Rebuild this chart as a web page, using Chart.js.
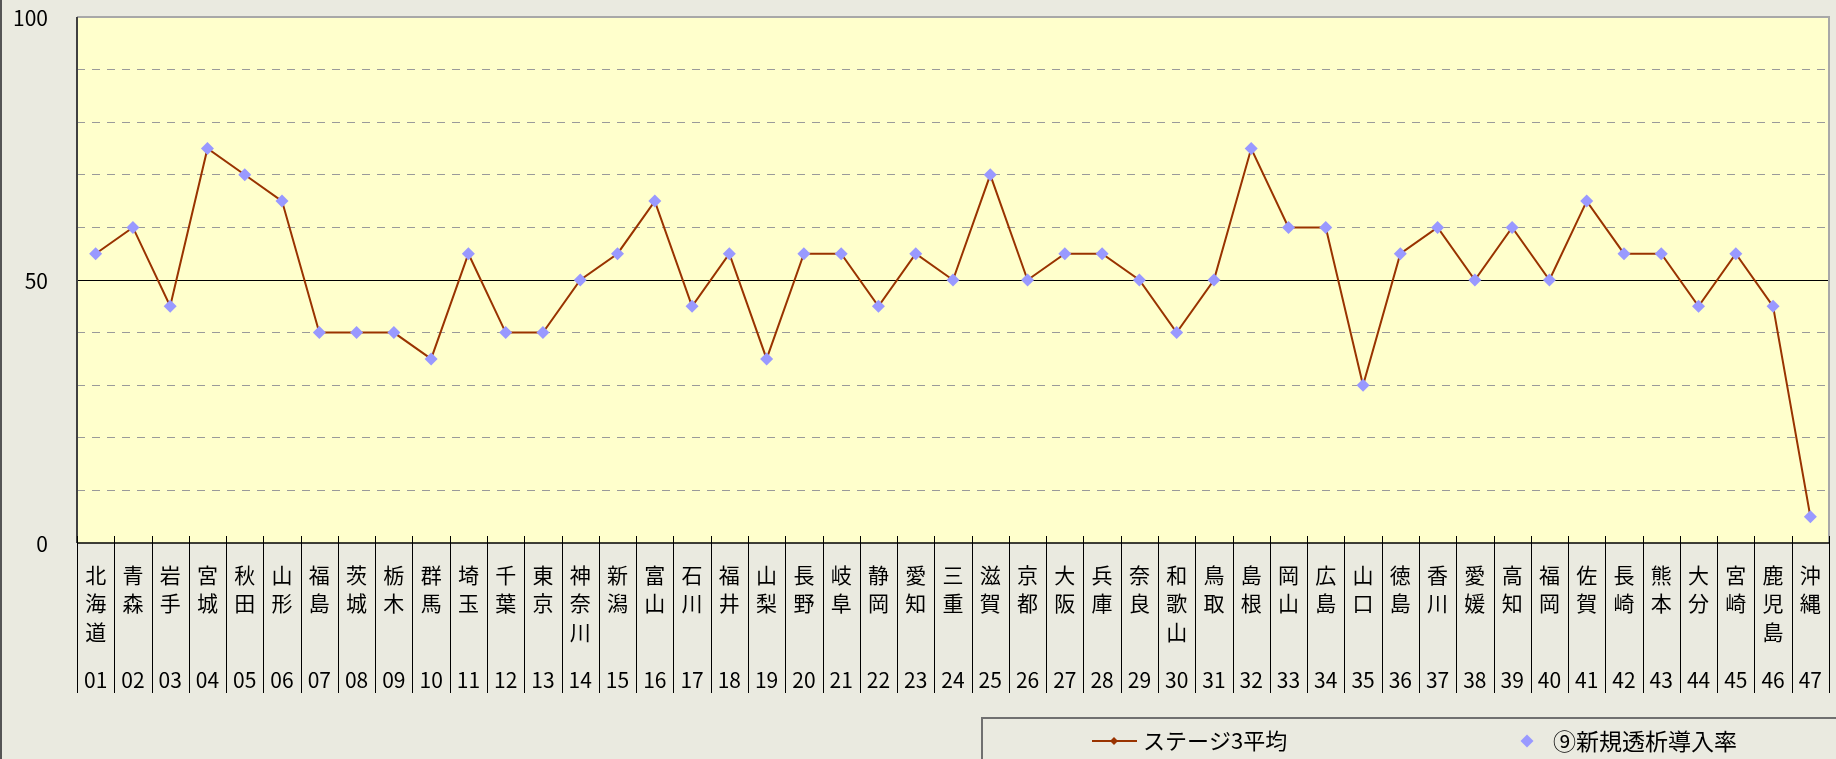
<!DOCTYPE html>
<html lang="ja">
<head>
<meta charset="utf-8">
<script src="https://cdn.jsdelivr.net/npm/chart.js@4.4.1/dist/chart.umd.min.js"></script>
<style>
  html, body { margin: 0; padding: 0; background: #eaeae0; }
  #wrap { width: 1836px; height: 759px; }
</style>
</head>
<body>
<div id="wrap"><canvas id="chart" width="1836" height="759"></canvas></div>
<script>
// 都道府県
const prefNames = [
  "北海道", "青森", "岩手", "宮城", "秋田", "山形", "福島", "茨城", "栃木", "群馬",
  "埼玉", "千葉", "東京", "神奈川", "新潟", "富山", "石川", "福井", "山梨", "長野",
  "岐阜", "静岡", "愛知", "三重", "滋賀", "京都", "大阪", "兵庫", "奈良", "和歌山",
  "鳥取", "島根", "岡山", "広島", "山口", "徳島", "香川", "愛媛", "高知", "福岡",
  "佐賀", "長崎", "熊本", "大分", "宮崎", "鹿児島", "沖縄",
];
const prefCodes = prefNames.map((_, i) => String(i + 1).padStart(2, "0"));

// 系列
const seriesNames = ["ステージ3平均", "⑨新規透析導入率"];
const stage3Avg = [
  55, 60, 45, 75, 70, 65, 40, 40, 40, 35,
  55, 40, 40, 50, 55, 65, 45, 55, 35, 55,
  55, 45, 55, 50, 70, 50, 55, 55, 50, 40,
  50, 75, 60, 60, 30, 55, 60, 50, 60, 50,
  65, 55, 55, 45, 55, 45, 5,
];
const newDialysisRate = [
  55, 60, 45, 75, 70, 65, 40, 40, 40, 35,
  55, 40, 40, 50, 55, 65, 45, 55, 35, 55,
  55, 45, 55, 50, 70, 50, 55, 55, 50, 40,
  50, 75, 60, 60, 30, 55, 60, 50, 60, 50,
  65, 55, 55, 45, 55, 45, 5,
];
const yTickLabels = [0, 50, 100];

const FONT = "'Noto Sans CJK JP', 'Noto Sans', sans-serif";
const LINE_COLOR = "#993300";
const DOT_COLOR = "#9999ff";

// 背景・枠・ラベル・凡例を描くプラグイン
const decorations = {
  id: "decorations",
  beforeDraw(chart) {
    const { ctx, chartArea: a } = chart;
    ctx.save();
    ctx.fillStyle = "#eaeae0";
    ctx.fillRect(0, 0, chart.width, chart.height);
    ctx.fillStyle = "#ffffcc";
    ctx.fillRect(a.left, a.top, a.right - a.left, a.bottom - a.top);
    ctx.restore();
  },
  beforeDatasetsDraw(chart) {
    const { ctx, chartArea: a } = chart;
    const y = chart.scales.y;
    ctx.save();
    // 50の実線
    const y50 = Math.round(y.getPixelForValue(50)) + 0.5;
    ctx.strokeStyle = "#000";
    ctx.lineWidth = 1;
    ctx.beginPath();
    ctx.moveTo(a.left, y50);
    ctx.lineTo(a.right, y50);
    ctx.stroke();
    // 上・右の枠
    ctx.strokeStyle = "#a8a8a8";
    ctx.lineWidth = 2;
    ctx.beginPath();
    ctx.moveTo(a.left, a.top);
    ctx.lineTo(a.right, a.top);
    ctx.lineTo(a.right, a.bottom);
    ctx.stroke();
    // 左軸・下軸
    ctx.strokeStyle = "#404040";
    ctx.lineWidth = 2;
    ctx.beginPath();
    ctx.moveTo(a.left, a.top);
    ctx.lineTo(a.left, a.bottom);
    ctx.stroke();
    ctx.strokeStyle = "#000";
    ctx.lineWidth = 1.5;
    ctx.beginPath();
    ctx.moveTo(a.left, a.bottom);
    ctx.lineTo(a.right, a.bottom);
    ctx.stroke();
    ctx.restore();
  },
  afterDraw(chart) {
    const { ctx, chartArea: a } = chart;
    const x = chart.scales.x;
    const y = chart.scales.y;
    const band = x.getPixelForValue(1) - x.getPixelForValue(0);
    ctx.save();

    // 外枠の左線
    ctx.fillStyle = "#555";
    ctx.fillRect(0, 0, 2, chart.height);

    // Y軸ラベル
    ctx.fillStyle = "#000";
    ctx.font = "21px " + FONT;
    ctx.textAlign = "right";
    ctx.textBaseline = "middle";
    yTickLabels.forEach((v) => {
      ctx.fillText(String(v), 48, y.getPixelForValue(v) + 1);
    });

    // 区切り線
    ctx.strokeStyle = "#000";
    ctx.lineWidth = 1;
    for (let i = 0; i <= prefNames.length; i++) {
      const xb = Math.round(x.getPixelForValue(i) - band / 2) + 0.5;
      ctx.beginPath();
      ctx.moveTo(xb, a.bottom - 7);
      ctx.lineTo(xb, a.bottom + 150);
      ctx.stroke();
    }

    // 縦書きカテゴリ名と番号
    ctx.textAlign = "center";
    ctx.font = "21px " + FONT;
    prefNames.forEach((name, i) => {
      const cx = x.getPixelForValue(i);
      [...name].forEach((ch, j) => {
        ctx.fillText(ch, cx, a.bottom + 32 + j * 28.5);
      });
      ctx.fillText(prefCodes[i], cx, a.bottom + 137);
    });

    // 凡例
    ctx.strokeStyle = "#707070";
    ctx.lineWidth = 2;
    ctx.strokeRect(982, 718, 900, 100);

    const ly = 741;
    ctx.strokeStyle = LINE_COLOR;
    ctx.lineWidth = 2;
    ctx.beginPath();
    ctx.moveTo(1092, ly);
    ctx.lineTo(1137, ly);
    ctx.stroke();
    drawDiamond(ctx, 1114, ly, 4, LINE_COLOR);
    drawDiamond(ctx, 1527, ly, 6.5, DOT_COLOR);

    ctx.fillStyle = "#000";
    ctx.textAlign = "left";
    ctx.font = "22px " + FONT;
    ctx.fillText(seriesNames[0], 1143, ly);
    ctx.font = "23px " + FONT;
    ctx.fillText(seriesNames[1], 1553, ly);
    ctx.restore();
  },
};

function drawDiamond(ctx, cx, cy, r, color) {
  ctx.fillStyle = color;
  ctx.beginPath();
  ctx.moveTo(cx - r, cy);
  ctx.lineTo(cx, cy - r);
  ctx.lineTo(cx + r, cy);
  ctx.lineTo(cx, cy + r);
  ctx.closePath();
  ctx.fill();
}

const ctx = document.getElementById("chart").getContext("2d");

new Chart(ctx, {
  type: "line",
  data: {
    labels: prefNames,
    datasets: [
      {
        label: seriesNames[0],
        data: stage3Avg,
        borderColor: LINE_COLOR,
        borderWidth: 2,
        tension: 0,
        pointStyle: "rectRot",
        pointRadius: 3,
        pointBackgroundColor: LINE_COLOR,
        pointBorderWidth: 0,
        order: 1,
      },
      {
        label: seriesNames[1],
        data: newDialysisRate,
        showLine: false,
        pointStyle: "rectRot",
        pointRadius: 6.5,
        pointBackgroundColor: DOT_COLOR,
        pointBorderColor: DOT_COLOR,
        pointBorderWidth: 0,
        order: 0,
      },
    ],
  },
  options: {
    responsive: false,
    animation: false,
    layout: { padding: { top: 17, right: 7, left: 0, bottom: 0 } },
    plugins: {
      legend: { display: false },
      tooltip: { enabled: false },
    },
    scales: {
      x: {
        offset: true,
        grid: { display: false },
        border: { display: false },
        ticks: { display: false },
        afterFit: (scale) => { scale.height = 216; },
      },
      y: {
        min: 0,
        max: 100,
        grid: {
          drawTicks: false,
          color: (c) => (c.tick.value % 50 === 0 ? "rgba(0,0,0,0)" : "#9a9a9a"),
          lineWidth: 1,
        },
        border: { display: false, dash: [8, 7] },
        ticks: { stepSize: 10, display: false },
        afterFit: (scale) => { scale.width = 77; },
      },
    },
  },
  plugins: [decorations],
});
</script>
</body>
</html>
